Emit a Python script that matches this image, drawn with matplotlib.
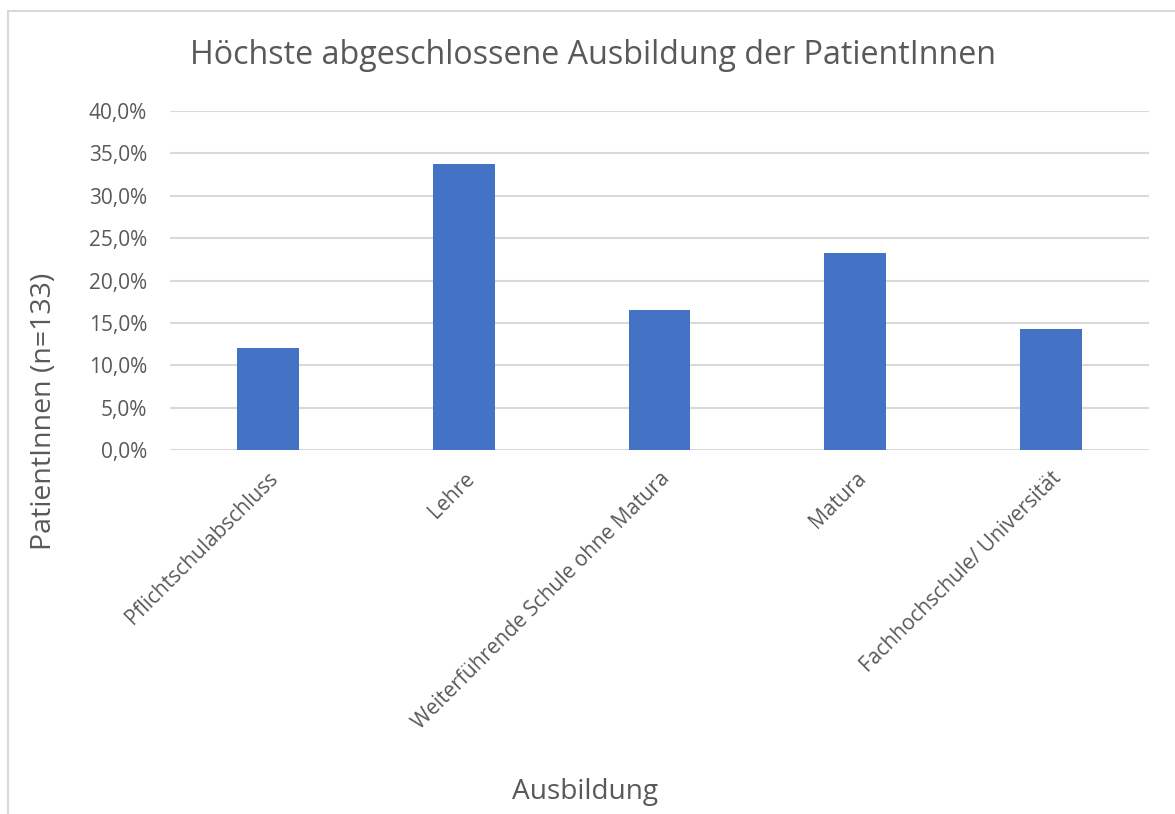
import matplotlib.pyplot as plt
import matplotlib as mpl
from matplotlib.patches import Rectangle
from matplotlib.ticker import FuncFormatter

mpl.rcParams['font.family'] = ['Open Sans', 'DejaVu Sans']

# Data (share of patients, n=133)
categories = ['Pflichtschulabschluss', 'Lehre', 'Weiterführende Schule ohne Matura',
              'Matura', 'Fachhochschule/ Universität']
shares = [0.120, 0.338, 0.165, 0.233, 0.143]
yticks = [0.0, 0.05, 0.10, 0.15, 0.20, 0.25, 0.30, 0.35, 0.40]

text_color = '#595959'
grid_color = '#d9d9d9'
bar_color = '#4472C4'

fig = plt.figure(figsize=(11.75, 8.14), dpi=100)
W, H = 1175, 814
ax = fig.add_axes([170 / W, 1 - 450 / H, (1149 - 170) / W, (450 - 111) / H])

x = range(len(categories))
ax.bar(x, shares, width=0.316, color=bar_color, zorder=2)

ax.set_xlim(-0.5, len(categories) - 0.5)
ax.set_ylim(0, 0.40)
ax.set_yticks(yticks)
ax.yaxis.set_major_formatter(FuncFormatter(lambda v, p: f'{v*100:.1f}%'.replace('.', ',')))
ax.grid(True, axis='y', color=grid_color, linewidth=1.5, zorder=0)
for s in ax.spines.values():
    s.set_visible(False)
ax.tick_params(axis='both', length=0, colors=text_color, labelsize=15)
ax.tick_params(axis='y', pad=16.5)

ax.set_xticks(list(x))
ax.set_xticklabels(categories, rotation=45, ha='right', va='top',
                   rotation_mode='anchor', fontsize=15, color=text_color)
ax.tick_params(axis='x', pad=13)

fig.text(593 / W, 1 - 56 / H, 'Höchste abgeschlossene Ausbildung der PatientInnen',
         ha='center', va='center', fontsize=23.2, color=text_color)
fig.text(44 / W, 1 - 411 / H, 'PatientInnen (n=133)', rotation=90,
         ha='center', va='center', fontsize=20.5, color=text_color)
fig.text(585 / W, 1 - 792 / H, 'Ausbildung', ha='center', va='center',
         fontsize=20.2, color=text_color)

# chart frame (cut off on right and bottom like the reference)
fig.patches.append(Rectangle((8 / W, -0.1), 1.2, 1 - 11 / H + 0.1,
                             transform=fig.transFigure, fill=False,
                             edgecolor='#d9d9d9', linewidth=1.5))

fig.savefig('out.png', dpi=100)
